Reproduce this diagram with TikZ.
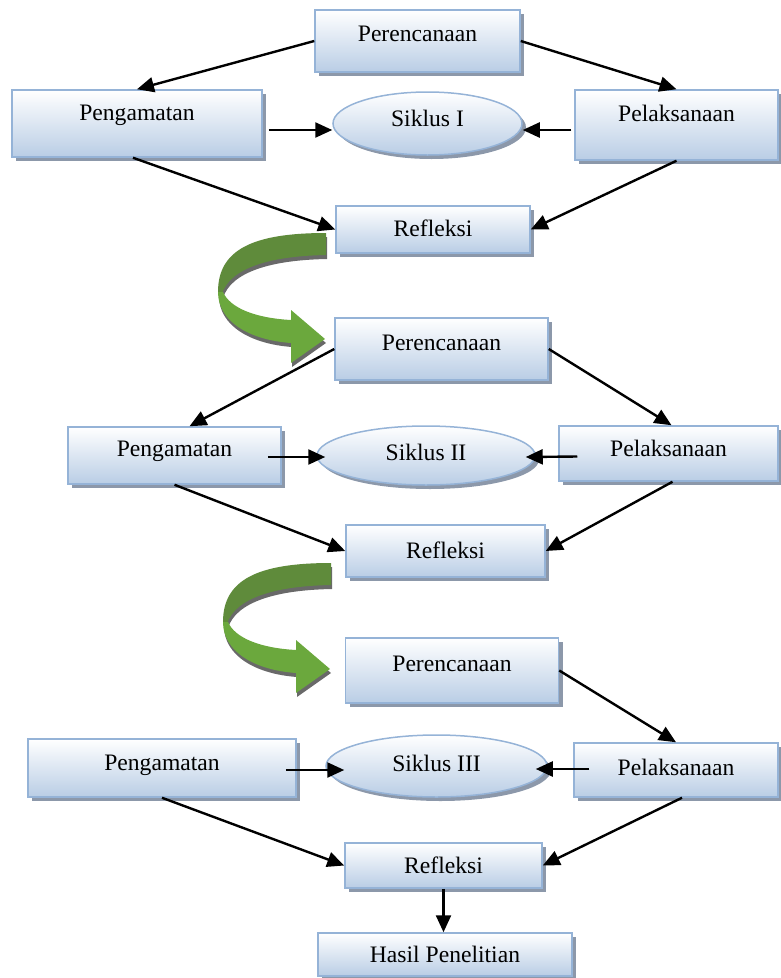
\documentclass[tikz,border=0pt]{standalone}
\usepackage{fontspec}
\setmainfont{Liberation Serif}
\usetikzlibrary{shapes.geometric, shadows, arrows.meta}

\definecolor{boxline}{RGB}{149,179,215}
\definecolor{boxfill}{RGB}{185,205,229}
\definecolor{boxshadow}{RGB}{140,152,170}
\definecolor{gdark}{RGB}{95,139,59}
\definecolor{glight}{RGB}{107,168,61}
\definecolor{gshadow}{RGB}{105,105,105}

% curved band arrow between two cycles
\newcommand\greenband[2]{%
  \fill[#1] (326,233) .. controls (252,233) and (218,250) .. (218,292)
    -- (222,294) .. controls (230,268) and (270,256) .. (326,255) -- cycle;
  \fill[#2] (218,292) .. controls (218,322) and (250,340) .. (291,343)
    -- (291,363) -- (325,339) -- (291,310) -- (291,320)
    .. controls (255,318) and (230,308) .. (223,292) -- cycle;
}

\tikzset{
  box/.style={draw=boxline, line width=1.5pt, top color=white, bottom color=boxfill,
    drop shadow={shadow xshift=4pt, shadow yshift=-4pt, fill=boxshadow, opacity=1},
    inner sep=0pt, font=\fontsize{23.6}{28}\selectfont, text height=16pt},
  siklus/.style={box, ellipse},
  conn/.style={line width=2.4pt, -{Triangle[length=17pt,width=15pt]}}
}

\begin{document}
\begin{tikzpicture}[x=1pt, y=-1pt]
\useasboundingbox (0,0) rectangle (780,978);

% green arrows
\foreach \dx/\dy in {0/0, 5/330} {
  \begin{scope}[shift={(\dx,\dy)}]
    \begin{scope}[shift={(1,4)}]
      \greenband{gshadow}{gshadow}
    \end{scope}
    \greenband{gdark}{glight}
  \end{scope}
}

% Siklus I
\node[box, minimum width=205pt, minimum height=62pt, text depth=16pt] (per1) at (417.5,41) {Perencanaan};
\node[box, minimum width=250pt, minimum height=67pt, text depth=22pt] (pg1) at (137,123.5) {Pengamatan};
\node[siklus, minimum width=189pt, minimum height=63pt, text depth=10pt] (sk1) at (427.5,123.5) {Siklus I};
\node[box, minimum width=203pt, minimum height=70pt, text depth=24pt] (pl1) at (676.5,125) {Pelaksanaan};
\node[box, minimum width=194pt, minimum height=47pt, text depth=3pt] (rf1) at (433,229.5) {Refleksi};

% Siklus II
\node[box, minimum width=213pt, minimum height=62pt, text depth=14pt] (per2) at (441.5,349) {Perencanaan};
\node[box, minimum width=213pt, minimum height=57pt, text depth=14pt] (pg2) at (174.5,455.5) {Pengamatan};
\node[siklus, minimum width=218pt, minimum height=59pt, text depth=6pt] (sk2) at (426,455.5) {Siklus II};
\node[box, minimum width=219pt, minimum height=55pt, text depth=10pt] (pl2) at (668.5,453.5) {Pelaksanaan};
\node[box, minimum width=199pt, minimum height=52pt, text depth=2pt] (rf2) at (445.5,551) {Refleksi};

% Siklus III
\node[box, minimum width=213pt, minimum height=65pt, text depth=15pt] (per3) at (452,670.5) {Perencanaan};
\node[box, minimum width=268pt, minimum height=58pt, text depth=12pt] (pg3) at (162,768) {Pengamatan};
\node[siklus, minimum width=221pt, minimum height=62pt, text depth=6pt] (sk3) at (436.5,766) {Siklus III};
\node[box, minimum width=204pt, minimum height=54pt, text depth=6pt] (pl3) at (676,770) {Pelaksanaan};
\node[box, minimum width=197pt, minimum height=45pt, text depth=1pt] (rf3) at (443.5,865.5) {Refleksi};
\node[box, minimum width=254pt, minimum height=43pt, text depth=1pt] (hasil) at (445,954.5) {Hasil Penelitian};

% connectors
\draw[conn] (per1.west) -- (pg1.north);
\draw[conn] (per1.east) -- (pl1.north);
\draw[conn] ([xshift=6pt,yshift=-6.5pt]pg1.east) -- ([yshift=-6.5pt]sk1.west);
\draw[conn] ([xshift=-3pt,yshift=-5pt]pl1.west) -- ([yshift=-6.5pt]sk1.east);
\draw[conn] ([xshift=-4pt]pg1.south) -- (rf1.west);
\draw[conn] (pl1.south) -- (rf1.east);

\draw[conn] (per2.west) -- ([xshift=15pt]pg2.north);
\draw[conn] (per2.east) -- ([xshift=3pt]pl2.north);
\draw[conn] ([xshift=-14pt,yshift=-1.5pt]pg2.east) -- ([xshift=9pt,yshift=-1.5pt]sk2.west);
\draw[conn] ([xshift=19pt,yshift=-3pt]pl2.west) -- ([xshift=-10pt,yshift=-1.5pt]sk2.east);
\draw[conn] (pg2.south) -- (rf2.west);
\draw[conn] ([xshift=4pt]pl2.south) -- (rf2.east);

\draw[conn] (per3.east) -- (pl3.north);
\draw[conn] ([xshift=-11pt,yshift=-2pt]pg3.east) -- ([xshift=19pt,yshift=-4pt]sk3.west);
\draw[conn] ([xshift=16pt,yshift=1pt]pl3.west) -- ([xshift=-12pt,yshift=-3pt]sk3.east);
\draw[conn] (pg3.south) -- (rf3.west);
\draw[conn] ([xshift=6pt]pl3.south) -- (rf3.east);
\draw[conn] (rf3.south) -- (rf3.south |- hasil.north);
\end{tikzpicture}
\end{document}
